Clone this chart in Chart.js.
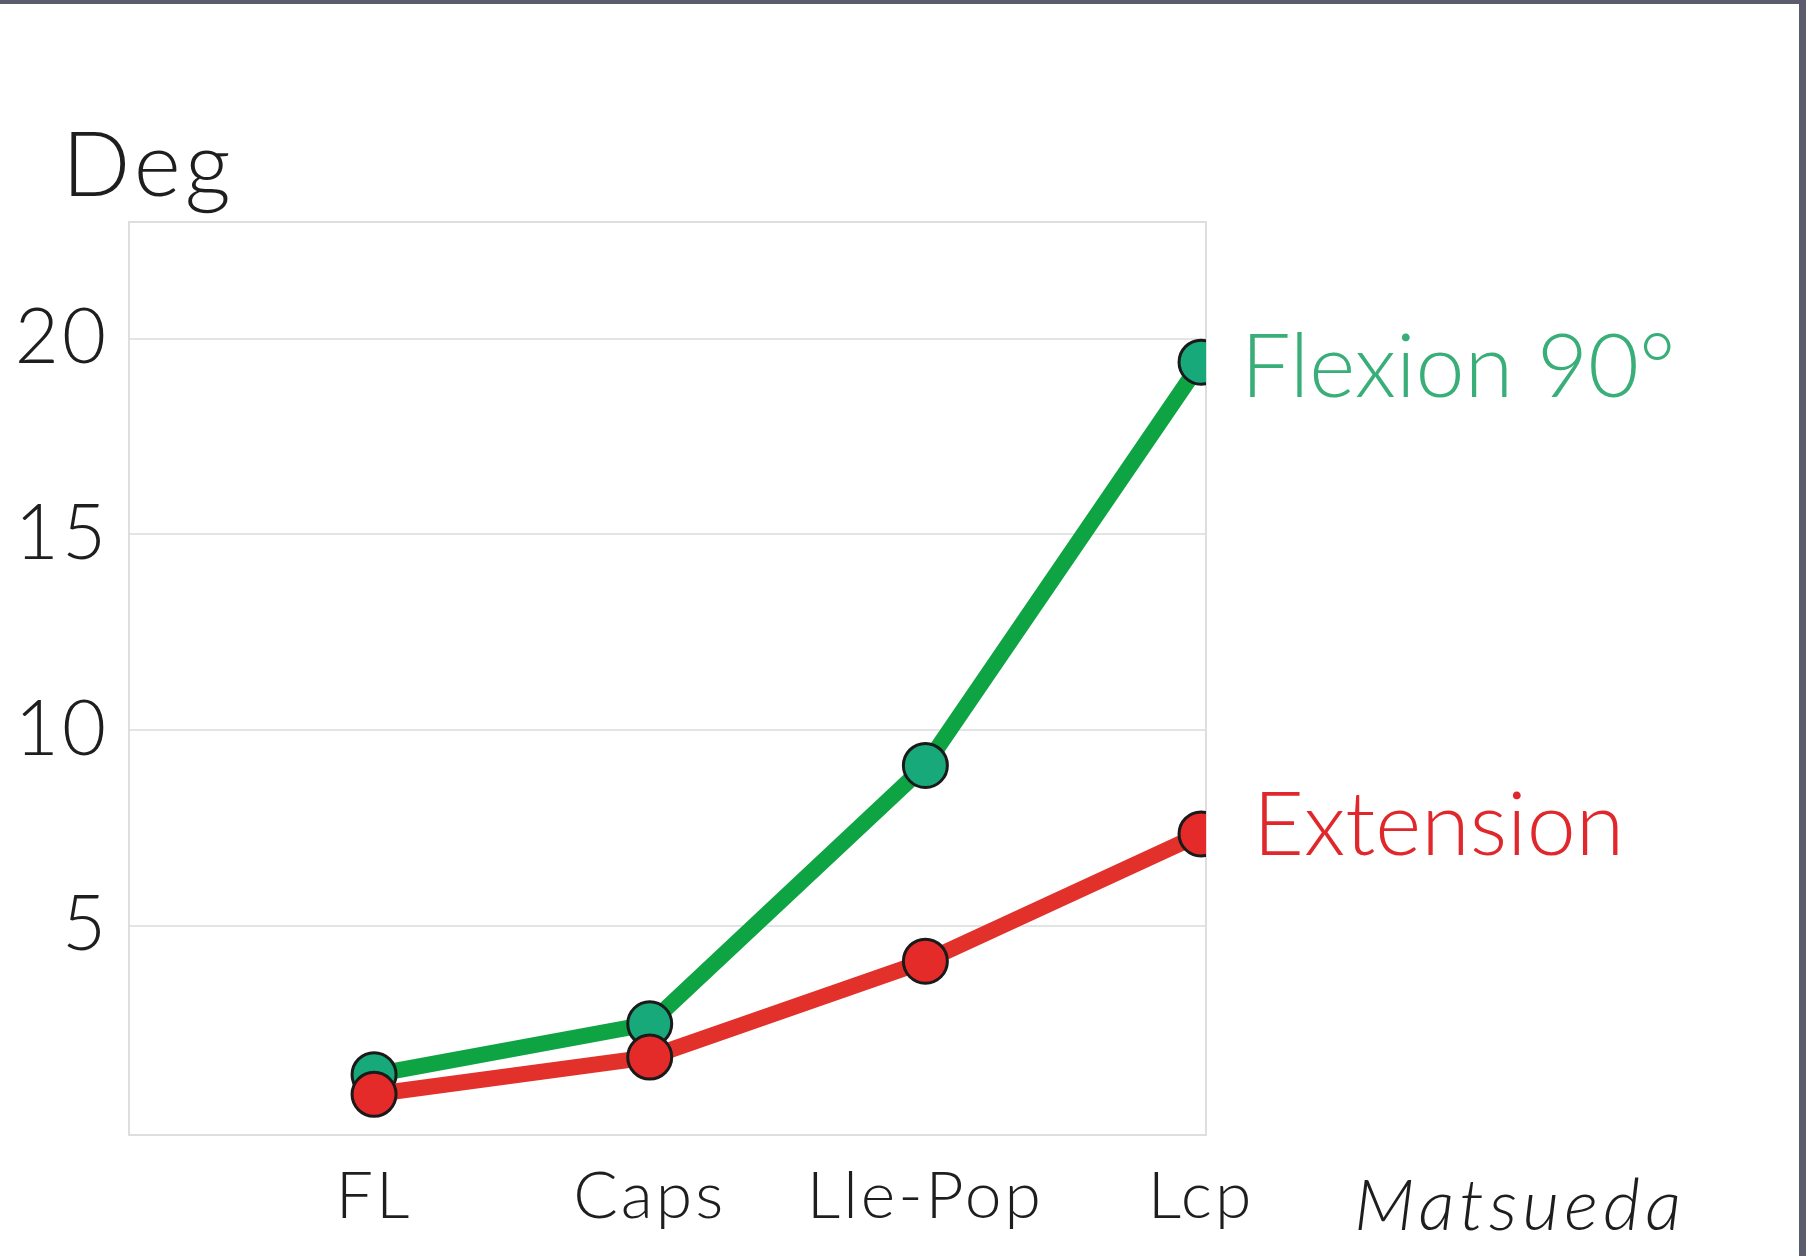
<!DOCTYPE html>
<html>
<head>
<meta charset="utf-8">
<script src="https://cdn.jsdelivr.net/npm/chart.js@4.4.1/dist/chart.umd.min.js"></script>
<style>
  html, body { margin: 0; padding: 0; background: #fff; }
  #wrap { position: relative; width: 1806px; height: 1256px; overflow: hidden; }
  #wrap::before { content: ""; position: absolute; left: 0; top: 0; width: 1806px; height: 4px; background: #5b5d6f; }
  #wrap::after { content: ""; position: absolute; right: 0; top: 0; width: 7px; height: 1256px; background: #5b5d6f; }
</style>
</head>
<body>
<div id="wrap"><canvas id="chart" width="1806" height="1256"></canvas></div>
<script>
// данные
const categories = ["FL", "Caps", "Lle-Pop", "Lcp"]
const flexion = [1.2, 2.5, 9.1, 19.4]
const extension = [0.7, 1.65, 4.1, 7.35]
const yTicks = [5, 10, 15, 20]
const seriesLabels = ["Flexion 90°", "Extension"]
const yTitle = "Deg"
const sourceNote = "Matsueda"

const FONT = "Lato, 'DejaVu Sans', sans-serif"

// рамка графика и подписи поверх
const overlay = {
  id: "overlay",
  beforeDraw(chart) {
    // чуть разрядить буквы, как в оригинальном шрифте
    chart.ctx.letterSpacing = "3px"
  },
  beforeDatasetsDraw(chart) {
    const { ctx, chartArea: a } = chart
    ctx.save()
    ctx.strokeStyle = "#dedede"
    ctx.lineWidth = 2
    ctx.strokeRect(a.left, a.top, a.right - a.left, a.bottom - a.top)
    ctx.restore()
  },
  afterDatasetsDraw(chart) {
    const { ctx } = chart
    ctx.save()
    ctx.textBaseline = "alphabetic"
    ctx.textAlign = "left"

    // подписи серий справа от последней точки
    const colors = ["#3aae78", "#e0282c"]
    const dx = [40, 52]
    const dy = [35, 21]
    ctx.letterSpacing = "0px"
    chart.data.datasets.forEach((ds, i) => {
      const meta = chart.getDatasetMeta(i)
      const last = meta.data[meta.data.length - 1]
      ctx.font = "300 88px " + FONT
      ctx.fillStyle = colors[i]
      ctx.fillText(ds.label, last.x + dx[i], last.y + dy[i])
    })

    ctx.fillStyle = "#1e1e1e"
    ctx.letterSpacing = "4px"
    ctx.font = "300 90px " + FONT
    ctx.fillText(yTitle, 62, 196)

    ctx.letterSpacing = "5px"
    ctx.font = "italic 300 72px " + FONT
    ctx.fillText(sourceNote, 1354, 1230)
    ctx.restore()
  }
}

new Chart(document.getElementById("chart"), {
  type: "line",
  data: {
    datasets: [
      {
        label: seriesLabels[0],
        data: categories.map((c, i) => ({ x: i, y: flexion[i] })),
        borderColor: "#0ea443",
        borderWidth: 16,
        pointBackgroundColor: "#17a97a",
        pointBorderColor: "#1a1a1a",
        pointBorderWidth: 3,
        pointRadius: 22,
        order: 1
      },
      {
        label: seriesLabels[1],
        data: categories.map((c, i) => ({ x: i, y: extension[i] })),
        borderColor: "#e2302b",
        borderWidth: 16,
        pointBackgroundColor: "#e52a2a",
        pointBorderColor: "#1a1a1a",
        pointBorderWidth: 3,
        pointRadius: 22,
        order: 0
      }
    ]
  },
  options: {
    responsive: false,
    animation: false,
    layout: { padding: { top: 222, right: 600, left: 0, bottom: 0 } },
    plugins: {
      legend: { display: false },
      tooltip: { enabled: false }
    },
    scales: {
      x: {
        type: "linear",
        min: -0.889,
        max: 3.018,
        afterBuildTicks: s => { s.ticks = categories.map((c, i) => ({ value: i })) },
        afterFit: s => { s.height = 121 },
        grid: { display: false, drawTicks: false },
        border: { display: false },
        ticks: {
          callback: v => categories[v],
          font: { family: FONT, size: 66, weight: 300 },
          color: "#1e1e1e",
          padding: 22,
          maxRotation: 0
        }
      },
      y: {
        min: -0.34,
        max: 22.98,
        afterBuildTicks: s => { s.ticks = yTicks.map(v => ({ value: v })) },
        afterFit: s => { s.width = 129 },
        grid: { color: "#e4e4e4", lineWidth: 2, drawTicks: false },
        border: { display: false },
        ticks: {
          font: { family: FONT, size: 76, weight: 300 },
          color: "#1e1e1e",
          padding: 20
        }
      }
    }
  },
  plugins: [overlay]
})
</script>
</body>
</html>
